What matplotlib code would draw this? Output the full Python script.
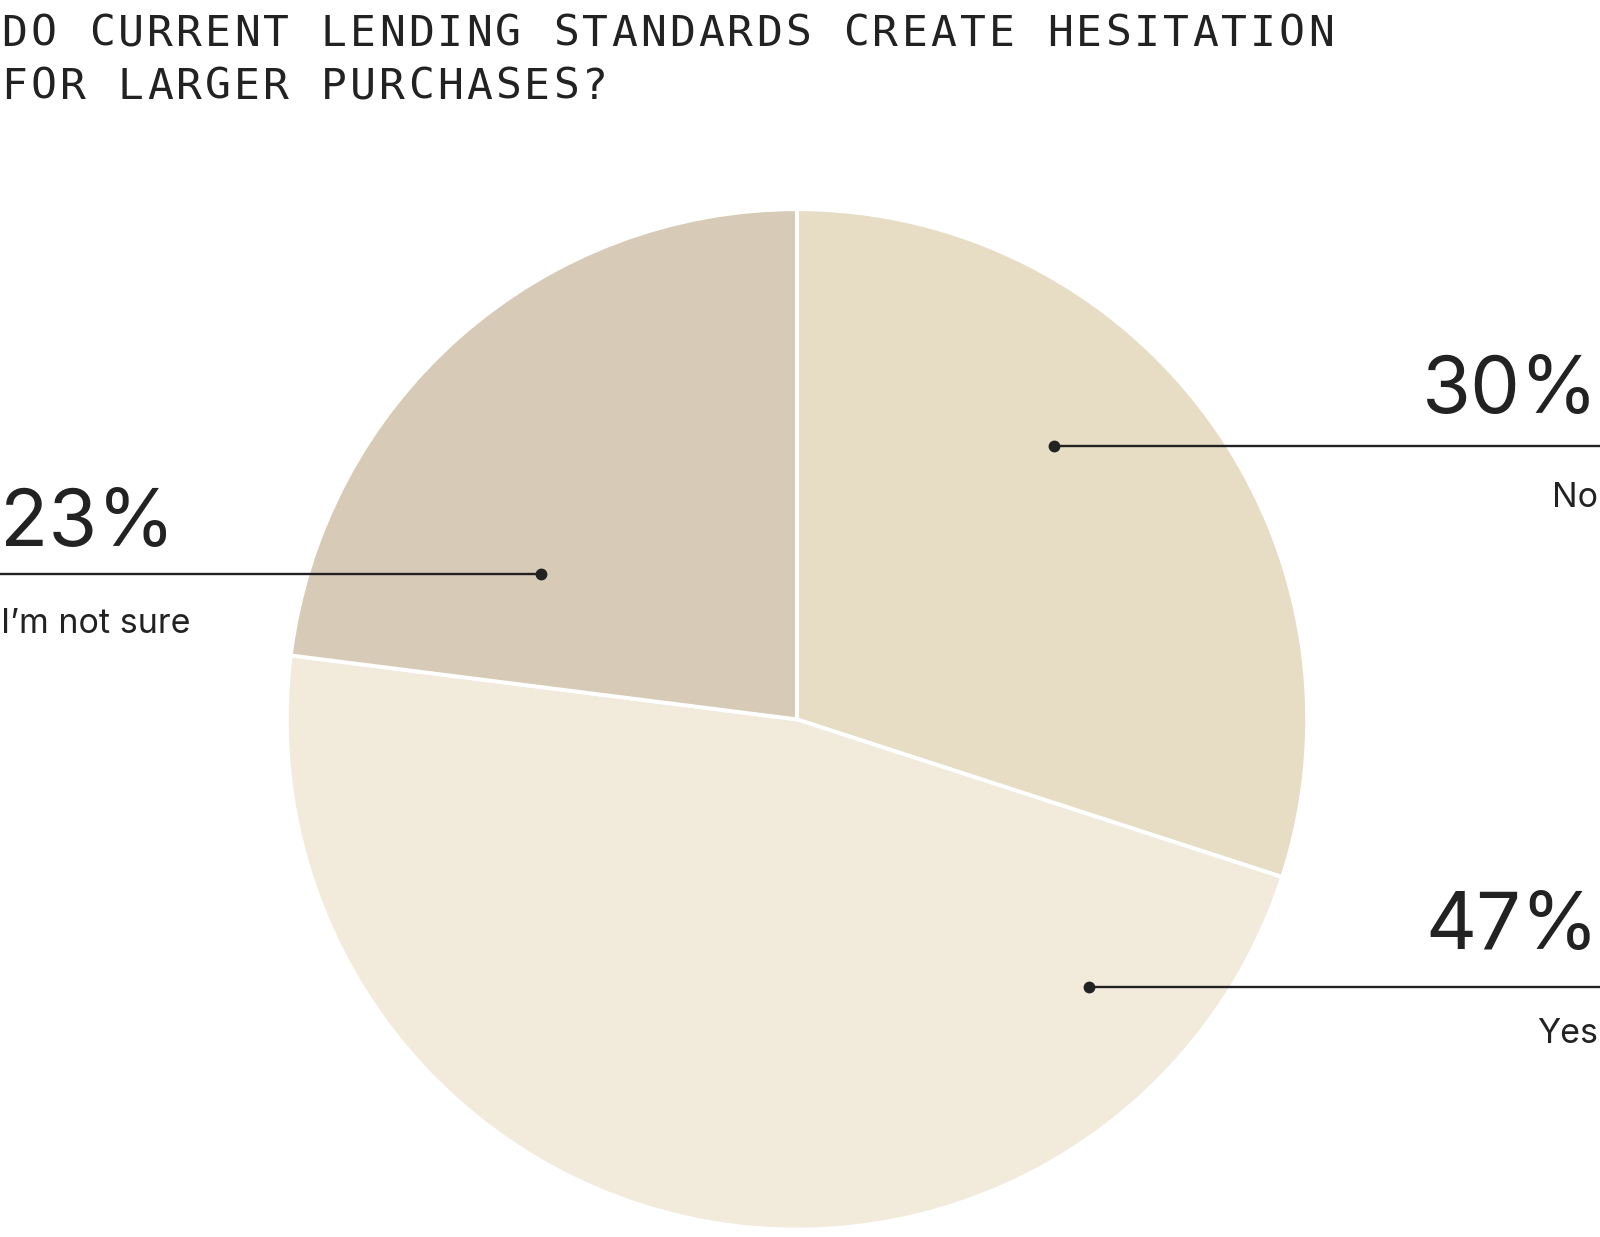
import matplotlib
matplotlib.use("Agg")
import matplotlib.pyplot as plt

title_lines = ["DO CURRENT LENDING STANDARDS CREATE HESITATION",
               "FOR LARGER PURCHASES?"]
categories = ["No", "Yes", "I\u2019m not sure"]
values = [30, 47, 23]
colors = ["#E7DCC4", "#F2EADB", "#D7CAB7"]

W, H = 1600, 1237
S = 1600 / 1568.0  # layout measured on a 1568-wide view

fig = plt.figure(figsize=(W / 100, H / 100), dpi=100)
fig.patch.set_facecolor("white")
ax = fig.add_axes([0, 0, 1, 1])


def X(v):
    return v * S


def Y(v):
    return H - v * S


cx, cy, r = X(781), Y(705), 500 * S
ax.pie(values, colors=colors, startangle=90, counterclock=False,
       center=(cx, cy), radius=r, frame=True,
       wedgeprops=dict(edgecolor="white", linewidth=2.8))
ax.set_xlim(0, W)
ax.set_ylim(0, H)
ax.set_aspect("equal")
ax.axis("off")

ink = "#222222"

# title: monospaced with wide tracking
pitch = 28.45 * S
for li, (line, base) in enumerate(zip(title_lines, [45, 97])):
    for i, ch in enumerate(line):
        if ch == " ":
            continue
        ax.text(X(0) + (i + 0.5) * pitch, Y(base), ch, family="DejaVu Sans Mono",
                fontsize=31, color=ink, ha="center", va="baseline")

font = "Inter"
ann = {
    "No": dict(dot=1033, y=437, end=1570, pct_base=405, lab_base=497, side="right"),
    "Yes": dict(dot=1067, y=967, end=1570, pct_base=930, lab_base=1022, side="right"),
    "I\u2019m not sure": dict(dot=530, y=563, end=0, pct_base=535, lab_base=620, side="left"),
}
for cat, val in zip(categories, values):
    a = ann[cat]
    ax.plot([X(a["dot"]), X(a["end"])], [Y(a["y"]), Y(a["y"])], color=ink, lw=1.7,
            solid_capstyle="butt")
    ax.plot([X(a["dot"])], [Y(a["y"])], "o", color=ink, ms=7.5)
    if a["side"] == "right":
        xp, xl, ha = X(1567), X(1566), "right"
    else:
        xp, xl, ha = X(0), X(1), "left"
    ax.text(xp, Y(a["pct_base"]), f"{val}%", family=font, fontsize=57, color=ink,
            ha=ha, va="baseline")
    ax.text(xl, Y(a["lab_base"]), cat, family=font, fontsize=24.5, color=ink,
            ha=ha, va="baseline")

fig.savefig("out.png", dpi=100, facecolor="white")
